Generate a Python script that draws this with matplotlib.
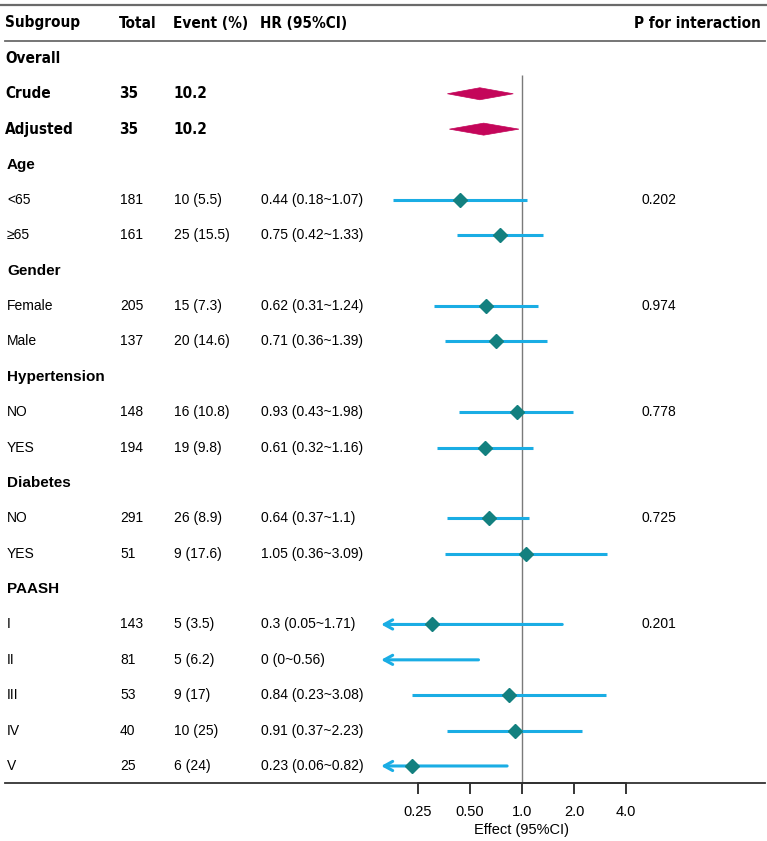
import matplotlib
matplotlib.use("Agg")
import matplotlib.pyplot as plt
from matplotlib import font_manager
from matplotlib.lines import Line2D
from matplotlib.patches import Polygon
from matplotlib.transforms import blended_transform_factory
import numpy as np

# ---------------- data ----------------
headers = ["Subgroup", "Total", "Event (%)", "HR (95%CI)", "P for interaction"]

overall_labels = ["Crude", "Adjusted"]
overall_total = ["35", "35"]
overall_event = ["10.2", "10.2"]
overall_est = [0.57, 0.60]
overall_lo = [0.37, 0.38]
overall_hi = [0.89, 0.96]

groups = ["Age", "Gender", "Hypertension", "Diabetes", "PAASH"]
sub_labels = [["<65", "≥65"], ["Female", "Male"], ["NO", "YES"], ["NO", "YES"],
              ["I", "II", "III", "IV", "V"]]
sub_total = [["181", "161"], ["205", "137"], ["148", "194"], ["291", "51"],
             ["143", "81", "53", "40", "25"]]
sub_event = [["10 (5.5)", "25 (15.5)"], ["15 (7.3)", "20 (14.6)"],
             ["16 (10.8)", "19 (9.8)"], ["26 (8.9)", "9 (17.6)"],
             ["5 (3.5)", "5 (6.2)", "9 (17)", "10 (25)", "6 (24)"]]
sub_hr = [[0.44, 0.75], [0.62, 0.71], [0.93, 0.61], [0.64, 1.05],
          [0.3, 0, 0.84, 0.91, 0.23]]
sub_lo = [[0.18, 0.42], [0.31, 0.36], [0.43, 0.32], [0.37, 0.36],
          [0.05, 0, 0.23, 0.37, 0.06]]
sub_hi = [[1.07, 1.33], [1.24, 1.39], [1.98, 1.16], [1.1, 3.09],
          [1.71, 0.56, 3.08, 2.23, 0.82]]
p_int = ["0.202", "0.974", "0.778", "0.725", "0.201"]

xticks = [0.25, 0.5, 1.0, 2.0, 4.0]
xticklabels = ["0.25", "0.50", "1.0", "2.0", "4.0"]
xlabel = "Effect (95%CI)"

# ---------------- style ----------------
W, H = 767, 841
fig = plt.figure(figsize=(W / 100, H / 100), dpi=100)

avail = {f.name for f in font_manager.fontManager.ttflist}
if "Liberation Sans Narrow" in avail:
    NARROW = dict(family="Liberation Sans Narrow", fontsize=12)
else:
    NARROW = dict(family="DejaVu Sans", fontstretch="condensed", fontsize=11)
SANS = "Liberation Sans"
plt.rcParams["font.family"] = [SANS, "DejaVu Sans"]

CI_COL = "#1AADE4"
PT_COL = "#13807F"
DIA_COL = "#C4065A"
REF_COL = "#7A7A7A"

row0_px, row_step = 23.0, 35.38
bottom_px = 783.0
y_top = -row0_px / row_step
y_bot = (bottom_px - row0_px) / row_step

# axis: 0.125 .. 8 mapped to px 366 .. 678
ax = fig.add_axes([366 / W, 1 - bottom_px / H, 312 / W, bottom_px / H])
ax.set_xscale("log", base=2)
ax.set_xlim(0.125, 8)
ax.set_ylim(y_bot, y_top)
ax.patch.set_alpha(0)
for s in ["top", "left", "right"]:
    ax.spines[s].set_visible(False)
ax.spines["bottom"].set_bounds(0.25, 4.0)
ax.spines["bottom"].set_linewidth(1.2)
ax.set_yticks([])
ax.set_xticks(xticks)
ax.set_xticklabels(xticklabels, fontsize=10.5)
ax.xaxis.set_minor_locator(matplotlib.ticker.NullLocator())
ax.tick_params(axis="x", length=8, width=1.1, direction="out", pad=8)
ax.set_xlabel(xlabel, fontsize=10.5, labelpad=3)

tr = blended_transform_factory(fig.transFigure, ax.transData)

def fx(px):
    return px / W

# horizontal rules
fig.add_artist(Line2D([0, 1], [-0.51, -0.51], transform=tr, color="#6a6a6a", lw=1.6))
fig.add_artist(Line2D([fx(5), fx(765)], [0.51, 0.51], transform=tr, color="#6a6a6a", lw=1.3))
fig.add_artist(Line2D([fx(5), fx(765)], [y_bot, y_bot], transform=tr, color="#333333", lw=1.3))

# reference line
ax.vlines(1.0, 1.47, y_bot, color=REF_COL, lw=1.0)

# header
hx = [5, 119, 173, 260]
for x, t in zip(hx, headers[:4]):
    ax.text(fx(x), 0, t, transform=tr, fontweight="bold", va="center", ha="left", **NARROW)
ax.text(fx(761), 0, headers[4], transform=tr, fontweight="bold", va="center",
        ha="right", **NARROW)

ax.text(fx(5), 1, "Overall", transform=tr, fontweight="bold", va="center", **NARROW)

clip = 0.153
half_h = 0.17

row = 2
for lab, tot, ev, est, lo, hi in zip(overall_labels, overall_total, overall_event,
                                     overall_est, overall_lo, overall_hi):
    ax.text(fx(5), row, lab, transform=tr, fontweight="bold", va="center", **NARROW)
    ax.text(fx(119), row, tot, transform=tr, fontweight="bold", va="center", **NARROW)
    ax.text(fx(173), row, ev, transform=tr, fontweight="bold", va="center", **NARROW)
    ax.add_patch(Polygon([(lo, row), (est, row - half_h), (hi, row), (est, row + half_h)],
                         closed=True, facecolor=DIA_COL, edgecolor=DIA_COL, lw=0.5))
    row += 1

for g, labs, tots, evs, hrs, los, his, p in zip(groups, sub_labels, sub_total, sub_event,
                                                 sub_hr, sub_lo, sub_hi, p_int):
    ax.text(fx(7), row, g, transform=tr, fontsize=11, fontweight="bold", va="center")
    row += 1
    for i, (lab, tot, ev, est, lo, hi) in enumerate(zip(labs, tots, evs, hrs, los, his)):
        ax.text(fx(7), row, lab, transform=tr, fontsize=10, va="center")
        ax.text(fx(120), row, tot, transform=tr, fontsize=10, va="center")
        ax.text(fx(174), row, ev, transform=tr, fontsize=10, va="center")
        ax.text(fx(261), row, f"{est:g} ({lo:g}~{hi:g})", transform=tr,
                fontsize=10, va="center")
        if i == 0:
            ax.text(fx(642), row, p, transform=tr, fontsize=10, va="center")
        if lo < clip:
            ax.annotate("", xy=(clip, row), xytext=(hi, row),
                        arrowprops=dict(arrowstyle="->,head_length=0.6,head_width=0.33",
                                        color=CI_COL, lw=2.2, shrinkA=0, shrinkB=0))
        else:
            ax.plot([lo, hi], [row, row], color=CI_COL, lw=2.2, solid_capstyle="butt")
        if est > 0:
            ax.plot(est, row, marker="D", color=PT_COL, markersize=7.5, zorder=5)
        row += 1

fig.savefig("out.png", dpi=100)
